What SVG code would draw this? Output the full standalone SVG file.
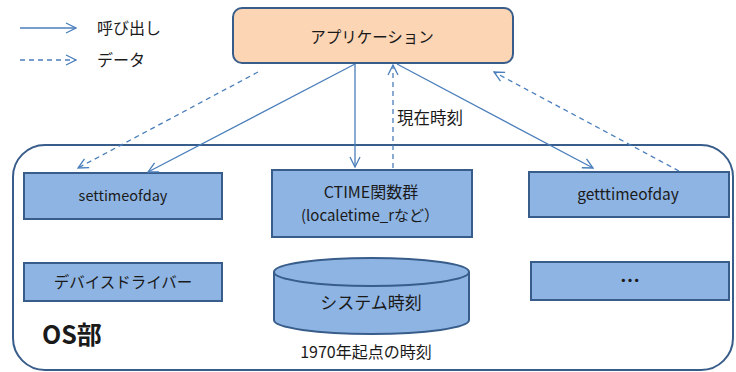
<svg xmlns="http://www.w3.org/2000/svg" width="736" height="372" viewBox="0 0 736 372">
  <style>
    text { font-family: "Noto Sans CJK JP", "Liberation Sans", sans-serif; fill: #1a1a1a; }
    .box { fill: #8EB4E3; stroke: #385D8A; stroke-width: 2; }
    .call { stroke: #4A7EBB; stroke-width: 1.3; fill: none; marker-end: url(#open); }
    .data { stroke: #4A7EBB; stroke-width: 1.3; fill: none; stroke-dasharray: 5 4; marker-end: url(#open); }
  </style>
  <defs>
    <marker id="open" viewBox="0 0 12 12" refX="11" refY="6" markerWidth="12" markerHeight="12" markerUnits="userSpaceOnUse" orient="auto">
      <path d="M1,1 L11,6 L1,11" fill="none" stroke="#4A7EBB" stroke-width="1.3"/>
    </marker>
  </defs>

  <rect width="736" height="372" fill="#ffffff"/>

  <!-- legend -->
  <g id="legend">
    <line class="call" x1="20" y1="28" x2="76" y2="28"/>
    <text x="97" y="34" font-size="16">呼び出し</text>
    <line class="data" x1="20" y1="60" x2="76" y2="60"/>
    <text x="97" y="66" font-size="16">データ</text>
  </g>

  <!-- OS container -->
  <g id="os">
    <rect x="13" y="145" width="720" height="225" rx="32" ry="32" fill="none" stroke="#385D8A" stroke-width="2"/>
    <text x="42" y="344" font-size="25" font-weight="bold" fill="#000">OS部</text>
  </g>

  <!-- application -->
  <g id="app">
    <rect x="233" y="8" width="280" height="55" rx="9" ry="9" fill="#FCD5B5" stroke="#385D8A" stroke-width="2"/>
    <text x="372" y="43" font-size="15.5" text-anchor="middle">アプリケーション</text>
  </g>

  <g id="settimeofday">
    <rect class="box" x="24" y="173" width="198" height="46"/>
    <text x="123" y="201" font-size="14.5" text-anchor="middle">settimeofday</text>
  </g>

  <g id="ctime">
    <rect class="box" x="272" y="170" width="200" height="67"/>
    <text x="371" y="198" font-size="16" text-anchor="middle">CTIME関数群</text>
    <text x="370" y="221" font-size="15" text-anchor="middle">(localetime_rなど）</text>
  </g>

  <g id="getttimeofday">
    <rect class="box" x="529" y="172" width="200" height="45"/>
    <text x="628" y="200" font-size="15.5" text-anchor="middle">getttimeofday</text>
  </g>

  <g id="driver">
    <rect class="box" x="24" y="263" width="198" height="38"/>
    <text x="123" y="288" font-size="15.5" text-anchor="middle">デバイスドライバー</text>
  </g>

  <g id="etc">
    <rect class="box" x="531" y="262" width="198" height="38"/>
    <text x="630" y="288" font-size="20" font-weight="bold" fill="#000" text-anchor="middle">…</text>
  </g>

  <g id="systemtime">
    <path class="box" d="M274,272 L274,320 A97.5,14 0 0 0 469,320 L469,272"/>
    <ellipse class="box" cx="371.5" cy="272" rx="97.5" ry="14"/>
    <text x="371" y="309" font-size="17" text-anchor="middle">システム時刻</text>
    <text x="366" y="358" font-size="16" text-anchor="middle">1970年起点の時刻</text>
  </g>

  <!-- connectors -->
  <g id="connectors">
    <line class="data" x1="258" y1="72" x2="78" y2="168"/>
    <line class="call" x1="355" y1="64" x2="148" y2="172"/>
    <line class="call" x1="355" y1="64" x2="355" y2="167"/>
    <line class="data" x1="393" y1="168" x2="393" y2="65"/>
    <line class="call" x1="397" y1="64" x2="593" y2="168"/>
    <line class="data" x1="679" y1="171" x2="494" y2="72"/>
    <text x="397" y="124" font-size="16.5">現在時刻</text>
  </g>
</svg>
